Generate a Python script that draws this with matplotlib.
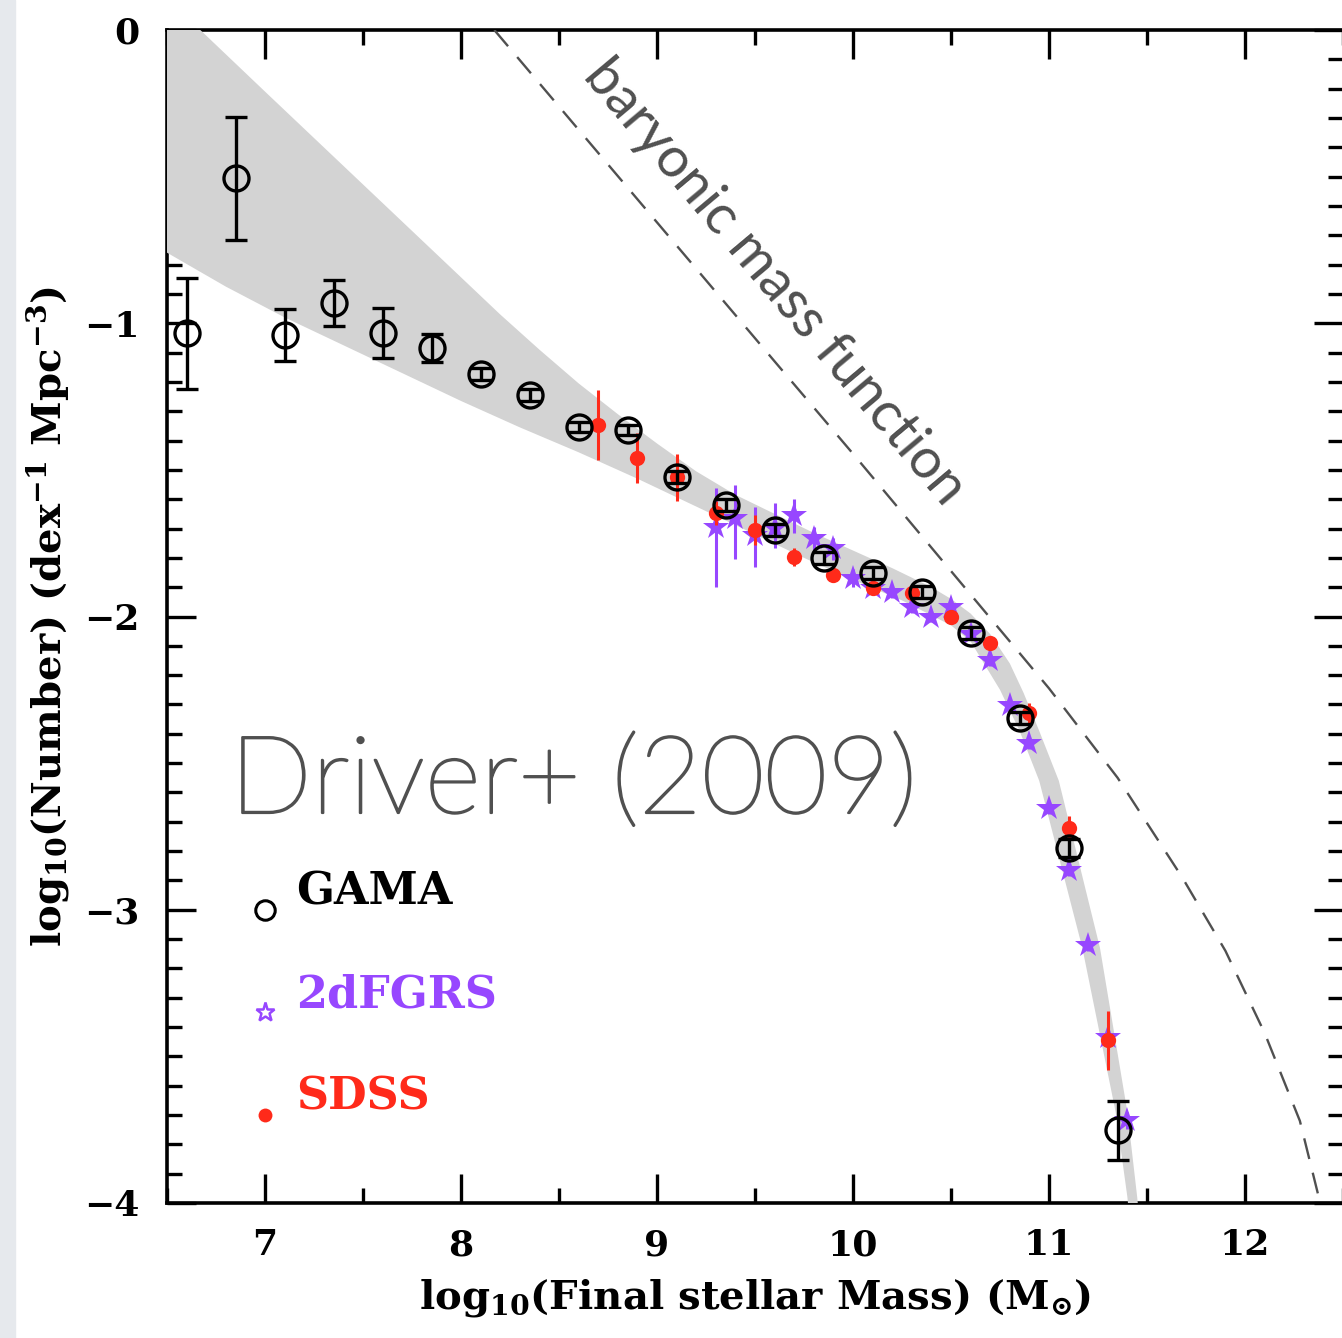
import matplotlib
matplotlib.use("Agg")
import matplotlib.pyplot as plt
import matplotlib.patheffects as pe
from matplotlib.patches import Rectangle
from matplotlib.ticker import MultipleLocator
import numpy as np

plt.rcParams["font.family"] = ["DejaVu Serif"]
plt.rcParams["font.weight"] = "bold"
plt.rcParams["axes.labelweight"] = "bold"
plt.rcParams["mathtext.fontset"] = "custom"
plt.rcParams["mathtext.rm"] = "DejaVu Serif:bold"
plt.rcParams["mathtext.it"] = "DejaVu Serif:bold"
plt.rcParams["mathtext.sf"] = "DejaVu Serif:bold"

# GAMA (circles)
gama_x = [6.6, 6.85, 7.1, 7.35, 7.6, 7.85, 8.1, 8.35, 8.6, 8.85,
          9.1, 9.35, 9.6, 9.85, 10.1, 10.35, 10.6, 10.85, 11.1, 11.35]
gama_y = [-1.034, -0.505, -1.04, -0.931, -1.034, -1.085, -1.173, -1.245, -1.354, -1.364,
          -1.525, -1.62, -1.705, -1.80, -1.852, -1.917, -2.057, -2.347, -2.79, -3.752]
gama_err = [0.19, 0.21, 0.09, 0.08, 0.085, 0.048, 0.02, 0.02, 0.018, 0.018,
            0.02, 0.02, 0.02, 0.02, 0.02, 0.02, 0.02, 0.02, 0.03, 0.10]

# 2dFGRS (stars)
tdf_x = [9.3, 9.4, 9.5, 9.6, 9.7, 9.8, 9.9, 10.0, 10.1, 10.2, 10.3,
         10.4, 10.5, 10.6, 10.7, 10.8, 10.9, 11.0, 11.1, 11.2, 11.3, 11.4]
tdf_y = [-1.695, -1.664, -1.722, -1.698, -1.654, -1.733, -1.767, -1.869, -1.903, -1.917, -1.968,
         -2.0, -1.968, -2.06, -2.149, -2.302, -2.432, -2.653, -2.865, -3.121, -3.434, -3.718]
tdf_err_lo = [0.205, 0.14, 0.109, 0.069, 0.062, 0.051, 0.041, 0.03, 0.025, 0.02, 0.02,
              0.02, 0.02, 0.02, 0.02, 0.02, 0.02, 0.02, 0.02, 0.02, 0.02, 0.03]
tdf_err_hi = [0.133, 0.112, 0.095, 0.085, 0.054, 0.038, 0.034, 0.03, 0.025, 0.02, 0.02,
              0.02, 0.02, 0.02, 0.02, 0.02, 0.02, 0.02, 0.02, 0.02, 0.02, 0.03]

# SDSS (filled dots)
sdss_x = [8.7, 8.9, 9.1, 9.3, 9.5, 9.7, 9.9, 10.1, 10.3, 10.5, 10.7, 10.9, 11.1, 11.3]
sdss_y = [-1.347, -1.46, -1.525, -1.647, -1.705, -1.797, -1.859, -1.903, -1.92, -2.002,
          -2.09, -2.33, -2.72, -3.445]
sdss_err = [0.12, 0.085, 0.08, 0.04, 0.05, 0.03, 0.025, 0.02, 0.02, 0.02,
            0.02, 0.035, 0.04, 0.10]

# grey band edges
band_up_x = [6.45, 6.67, 7.0, 7.3, 7.6, 7.9, 8.2, 8.4, 8.6, 8.8, 9.0, 9.2, 9.4, 9.6, 9.8,
             10.0, 10.2, 10.4, 10.5, 10.6, 10.7, 10.8, 10.87, 10.95, 11.05, 11.26, 11.40, 11.45, 11.46]
band_up_y = [0.14, 0.0, -0.21, -0.40, -0.59, -0.78, -0.97, -1.09, -1.205, -1.31, -1.41, -1.505, -1.585,
             -1.65, -1.715, -1.775, -1.835, -1.90, -1.94, -1.99, -2.06, -2.16, -2.26, -2.39, -2.56,
             -3.13, -3.69, -3.98, -4.05]
band_lo_x = [6.45, 6.8, 7.1, 7.4, 7.7, 8.0, 8.3, 8.6, 8.9, 9.2, 9.5, 9.75, 10.0, 10.25, 10.5, 10.6,
             10.75, 10.85, 10.95, 11.17, 11.34, 11.40, 11.41]
band_lo_y = [-0.74, -0.875, -0.98, -1.075, -1.17, -1.265, -1.355, -1.44, -1.53, -1.625, -1.72, -1.80,
             -1.875, -1.945, -2.03, -2.085, -2.25, -2.39, -2.56, -3.13, -3.69, -3.98, -4.05]

# baryonic mass function (dashed)
bmf_x = [8.17, 8.6, 9.1, 9.6, 10.0, 10.5, 11.0, 11.35, 11.68, 11.9, 12.1, 12.28, 12.38, 12.42]
bmf_y = [0.0, -0.34, -0.735, -1.13, -1.445, -1.845, -2.245, -2.55, -2.89, -3.14, -3.42, -3.72,
         -3.99, -4.1]

purple = "#9747ff"
red = "#ff2a1a"
grey_txt = "#505050"

fig = plt.figure(figsize=(13.42, 13.38), dpi=100)
fig.patches.append(Rectangle((0, 0), 15 / 1342, 1, transform=fig.transFigure,
                             color="#e6e9ed", zorder=0))
ax = fig.add_axes([167 / 1342, 1 - 1203 / 1338, 1176 / 1342, 1173 / 1338])

ax.fill(band_up_x + band_lo_x[::-1], band_up_y + band_lo_y[::-1],
        color="#d3d3d3", lw=0, zorder=3)

ax.plot(bmf_x, bmf_y, color=grey_txt, lw=1.7, ls=(0, (9, 6)), zorder=3.5)
ax.text(9.6, -0.86, "baryonic mass function", rotation=-50, rotation_mode="anchor",
        ha="center", va="center", fontsize=40, color=grey_txt, fontweight="normal",
        family=["Lato", "DejaVu Sans"])

ax.errorbar(tdf_x, tdf_y, yerr=[tdf_err_lo, tdf_err_hi], fmt="*", color=purple, ms=19,
            mew=0, elinewidth=2.2, capsize=8, capthick=2.2, zorder=4)
ax.errorbar(sdss_x, sdss_y, yerr=sdss_err, fmt="o", color=red, ms=11, mew=0,
            elinewidth=2.2, capsize=8, capthick=2.2, zorder=5)
ax.errorbar(gama_x, gama_y, yerr=gama_err, fmt="o", mfc="none", mec="black", color="black",
            ms=18, mew=2.4, elinewidth=2.4, capsize=8, capthick=2.4, zorder=6)

ax.text(6.82, -2.67, "Driver+ (2009)", fontsize=78, color=grey_txt,
        family=["Lato", "DejaVu Sans"], fontweight="light", ha="left", va="baseline", zorder=7,
        path_effects=[pe.withStroke(linewidth=1.6, foreground=grey_txt)])

# hand-made legend
leg_labels = ["GAMA", "2dFGRS", "SDSS"]
leg_colors = ["black", purple, red]
leg_y = [-3.0, -3.35, -3.7]
ax.plot(7.0, leg_y[0], "o", mfc="none", mec="black", ms=14, mew=2.2, zorder=7)
ax.plot(7.0, leg_y[1], "*", mfc="none", mec=purple, ms=14, mew=1.8, zorder=7)
ax.plot(7.0, leg_y[2], "o", color=red, ms=10, mew=0, zorder=7)
for lab, col, yy in zip(leg_labels, leg_colors, leg_y):
    ax.text(7.16, yy + 0.06, lab, fontsize=32, color=col, ha="left", va="center", zorder=7)

ax.set_xlim(6.5, 12.5)
ax.set_ylim(-4, 0)
ax.xaxis.set_major_locator(MultipleLocator(1))
ax.xaxis.set_minor_locator(MultipleLocator(0.5))
ax.yaxis.set_major_locator(MultipleLocator(1))
ax.yaxis.set_minor_locator(MultipleLocator(0.1))
ax.tick_params(which="both", direction="in", top=True, right=True, width=2.4, labelsize=26)
ax.tick_params(which="major", length=21)
ax.tick_params(which="minor", length=11)
ax.tick_params(axis="x", pad=18)
ax.tick_params(axis="y", pad=20)
for sp in ax.spines.values():
    sp.set_linewidth(2.6)

ax.set_xlabel(r"log$_{10}$(Final stellar Mass) (M$_{\odot}$)", fontsize=29, labelpad=11)
ax.set_ylabel(r"log$_{10}$(Number) (dex$^{-1}$ Mpc$^{-3}$)", fontsize=29, labelpad=9)

fig.savefig("out.png", dpi=100)
